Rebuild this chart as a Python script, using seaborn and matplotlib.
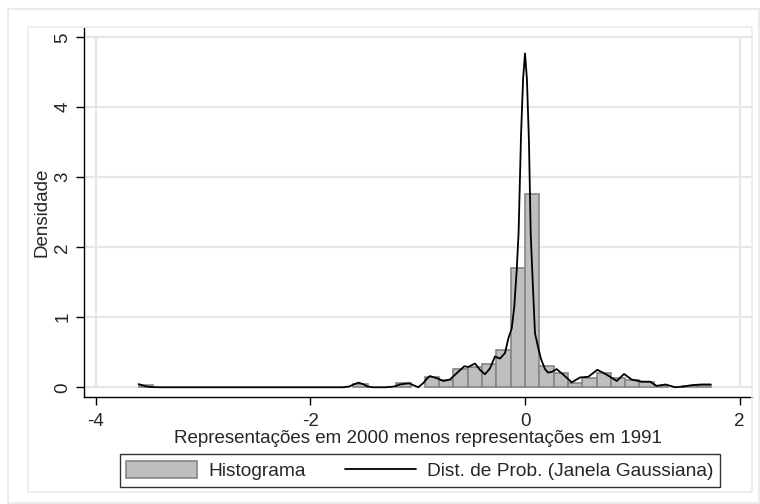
import numpy as np
import pandas as pd
import matplotlib
matplotlib.use("Agg")
import matplotlib.pyplot as plt
import seaborn as sns
from matplotlib.patches import Patch, Rectangle
from matplotlib.lines import Line2D

# -------------------------------
# Data
# -------------------------------
bin_start = -3.6
bin_width = 0.13333
hist_heights = [0.03, 0, 0, 0, 0, 0, 0, 0, 0, 0,
                0, 0, 0, 0, 0, 0.05, 0, 0, 0.06, 0,
                0.15, 0.10, 0.26, 0.29, 0.33, 0.53, 1.70, 2.76, 0.31, 0.21,
                0.06, 0.13, 0.21, 0.13, 0.10, 0.07, 0.02, 0, 0.02, 0.03]

kde_x = [-3.60, -3.57, -3.53, -3.48, -3.40, -1.70, -1.64, -1.59, -1.55, -1.51,
         -1.47, -1.42, -1.30, -1.22, -1.165, -1.12, -1.08, -1.04, -0.994, -0.948,
         -0.91, -0.885, -0.823, -0.76, -0.70, -0.637, -0.566, -0.528, -0.466, -0.42,
         -0.373, -0.326, -0.28, -0.233, -0.186, -0.155, -0.124, -0.10, -0.077, -0.06,
         -0.037, -0.018, 0.0, 0.018, 0.037, 0.053, 0.072, 0.093, 0.124, 0.15,
         0.186, 0.215, 0.25, 0.295, 0.357, 0.435, 0.513, 0.59, 0.674, 0.761,
         0.855, 0.923, 0.994, 1.088, 1.165, 1.227, 1.31, 1.398, 1.475, 1.553,
         1.646, 1.73]
kde_y = [0.045, 0.030, 0.012, 0.003, 0.0, 0.0, 0.01, 0.045, 0.066, 0.045,
         0.012, 0.0, 0.0, 0.01, 0.04, 0.05, 0.057, 0.03, 0.0, 0.06,
         0.13, 0.16, 0.13, 0.09, 0.11, 0.20, 0.30, 0.29, 0.34, 0.25,
         0.186, 0.27, 0.44, 0.41, 0.49, 0.70, 0.84, 1.15, 1.68, 2.2,
         3.6, 4.4, 4.77, 4.4, 3.5, 2.2, 1.5, 0.77, 0.56, 0.40,
         0.26, 0.21, 0.22, 0.26, 0.18, 0.07, 0.14, 0.15, 0.25, 0.18,
         0.09, 0.19, 0.11, 0.08, 0.08, 0.02, 0.04, 0.0, 0.01, 0.03,
         0.04, 0.04]

x_ticks = [-4, -2, 0, 2]
y_ticks = [0, 1, 2, 3, 4, 5]

n_bins = len(hist_heights)
edges = [bin_start + bin_width * i for i in range(n_bins + 1)]
hist_df = pd.DataFrame({"centro": [e + bin_width / 2 for e in edges[:-1]],
                        "densidade": hist_heights})

# -------------------------------
# Plot
# -------------------------------
sns.set_style("white")
plt.rcParams['font.family'] = ['Liberation Sans', 'DejaVu Sans']

fig = plt.figure(figsize=(7.6, 5.04), dpi=100)
ax = fig.add_axes([84 / 760, 1 - 397 / 504, (752 - 84) / 760, (397 - 28) / 504])

# frames around graph region
fig.patches.append(Rectangle((8 / 760, 1 - 503 / 504), 751 / 760, 494 / 504,
                             transform=fig.transFigure, fill=False,
                             edgecolor="#e8e8e8", lw=1.2, zorder=0))
fig.patches.append(Rectangle((28 / 760, 1 - 492 / 504), 724 / 760, 465 / 504,
                             transform=fig.transFigure, fill=False,
                             edgecolor="#ebebeb", lw=1.2, zorder=0))

for yv in y_ticks:
    ax.axhline(yv, color="#e6e6e6", lw=1.5, zorder=0)
for xv in [x_ticks[0], x_ticks[-1]]:
    ax.plot([xv, xv], [0, 5], color="#e6e6e6", lw=1.5, zorder=0)

sns.histplot(data=hist_df, x="centro", weights="densidade", bins=edges, stat="count",
             color="#bebebe", edgecolor="#858585", linewidth=1.2, alpha=1,
             ax=ax, zorder=2)
for p in ax.patches:
    if p.get_height() <= 0:
        p.set_visible(False)

sns.lineplot(x=kde_x, y=kde_y, color="black", lw=1.3, ax=ax, zorder=3)

ax.set_xlim(-4.109, 2.115)
ax.set_ylim(-0.139, 5.133)
ax.set_xticks(x_ticks)
ax.set_yticks(y_ticks)
ax.set_xticklabels([str(v) for v in x_ticks], fontsize=13.5)
ax.set_yticklabels([str(v) for v in y_ticks], fontsize=13.5, rotation=90, va="center")
ax.tick_params(axis="x", direction="out", length=6, width=1, color="black",
               bottom=True, pad=5.5)
ax.tick_params(axis="y", direction="out", length=6, width=1, color="black",
               left=True, pad=3)
ax.set_xlabel("Representações em 2000 menos representações em 1991", fontsize=13.5, labelpad=0)
ax.set_ylabel("Densidade", fontsize=13.5, labelpad=3)

sns.despine(ax=ax)
ax.spines["left"].set_color("black")
ax.spines["bottom"].set_color("black")
ax.spines["left"].set_linewidth(1)
ax.spines["bottom"].set_linewidth(1)

handles = [Patch(facecolor="#bebebe", edgecolor="#858585", linewidth=1.2),
           Line2D([0], [0], color="black", lw=1.3)]
leg = fig.legend(handles, ["Histograma", "Dist. de Prob. (Janela Gaussiana)"],
                 ncol=2, loc="center", bbox_to_anchor=(420 / 760, 1 - 470.5 / 504),
                 fontsize=13.8, frameon=True, fancybox=False, handlelength=3.7,
                 handleheight=0.95, columnspacing=2.0, borderpad=0.35,
                 handletextpad=0.6, borderaxespad=0)
leg.get_frame().set_edgecolor("black")
leg.get_frame().set_linewidth(1)

fig.savefig("out.png", dpi=100)
